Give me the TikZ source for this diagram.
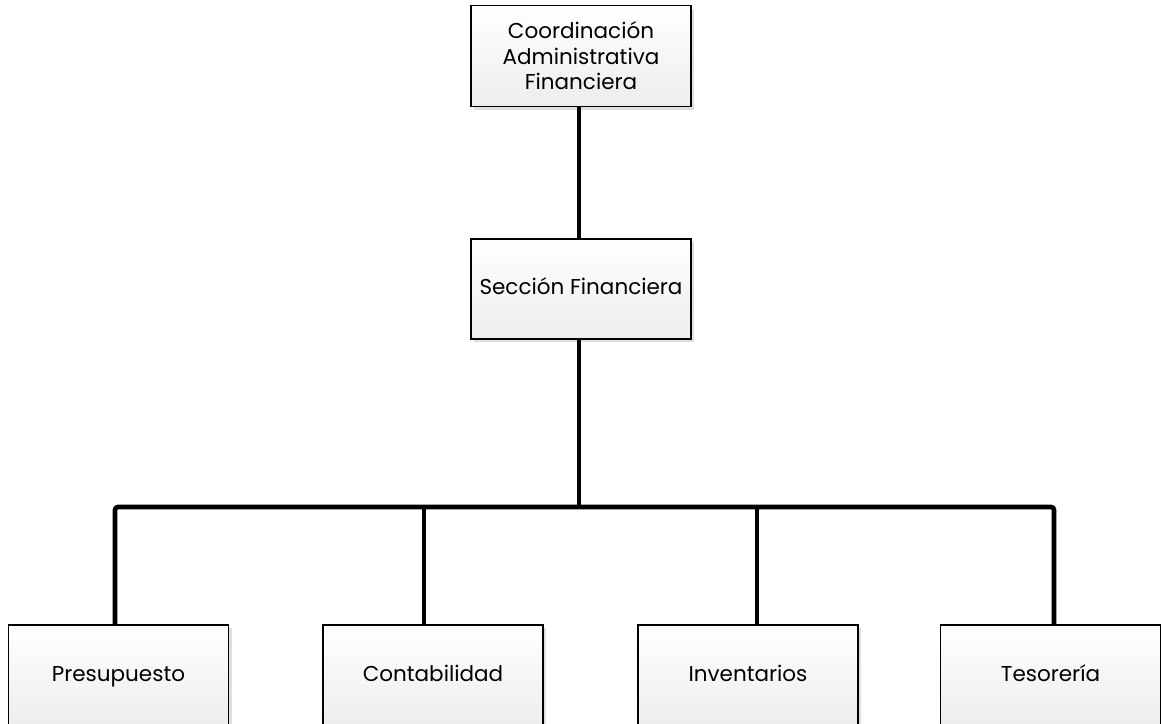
\documentclass[tikz,border=0pt]{standalone}
\usepackage{fontspec}
\setmainfont{Poppins}
\usetikzlibrary{shadows,calc}
\begin{document}
\begin{tikzpicture}[x=1pt,y=-1pt,
  orgbox/.style={draw=black, line width=1.6pt, minimum width=220pt, inner sep=0pt,
    top color=white, bottom color=gray!14, align=center,
    font=\fontsize{21.5}{25.5}\selectfont,
    drop shadow={shadow xshift=3pt, shadow yshift=-3pt, fill=gray!25, opacity=1}},
  onebox/.style={orgbox, text height=15.5pt, text depth=4.5pt},
  link/.style={line width=4.8pt, line cap=butt, line join=round}]
\useasboundingbox (0,0) rectangle (1161,723);
\begin{scope}
\clip (0,0) rectangle (1161,723);
\node[orgbox, minimum height=101pt] (c) at (581,56) {Coordinación\\Administrativa\\Financiera};
\node[onebox, minimum height=100pt] (s) at (581,289) {Sección Financiera};
\node[onebox, minimum height=102pt] (p) at (118.5,676) {Presupuesto};
\node[onebox, minimum height=102pt] (k) at (433,676) {Contabilidad};
\node[onebox, minimum height=102pt] (i) at (748,676) {Inventarios};
\node[onebox, minimum height=102pt] (t) at (1050.5,676) {Tesorería};
\coordinate (bus) at (579,507);
\coordinate (busl) at (115,507);
\coordinate (busr) at (1054,507);
\draw[link] ([xshift=-2pt]c.south) -- ([xshift=-2pt]s.north);
\draw[link] ([xshift=-2pt]s.south) -- (bus);
\draw[link, rounded corners=3pt] ([xshift=-3.5pt]p.north) -- (busl) -- (busr) -- ([xshift=3.5pt]t.north);
\draw[link] ([xshift=-9pt]k.north) -- ($(k.north |- bus)+(-9pt,0)$);
\draw[link] ([xshift=9pt]i.north) -- ($(i.north |- bus)+(9pt,0)$);
\end{scope}
\end{tikzpicture}
\end{document}
